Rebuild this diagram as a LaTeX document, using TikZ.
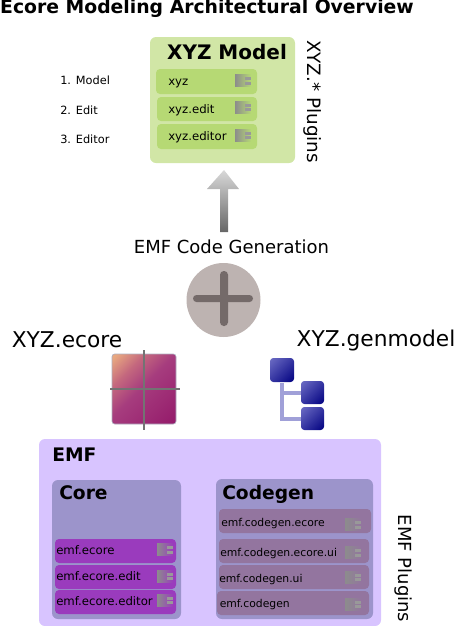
\documentclass[tikz,border=0pt]{standalone}
\usepackage{fontspec}
\setmainfont{DejaVu Sans}
\definecolor{greenouter}{HTML}{D1E6A6}
\definecolor{greeninner}{HTML}{B6D974}
\definecolor{emfbg}{HTML}{D8C4FF}
\definecolor{subbg}{HTML}{9C94CB}
\definecolor{corebox}{HTML}{9A3BBD}
\definecolor{genbox}{HTML}{93759F}
\definecolor{plusbg}{HTML}{BDB3B1}
\definecolor{plusfg}{HTML}{746A69}
\definecolor{treeline}{HTML}{A0A0D8}
\definecolor{deepblue}{HTML}{000080}
\definecolor{paleblue}{HTML}{6C6CC4}
\definecolor{ecoreA}{HTML}{E8A880}
\definecolor{ecoreAB}{HTML}{C4687E}
\definecolor{ecoreB}{HTML}{A63C7E}
\definecolor{ecoreC}{HTML}{941A6A}
\pgfdeclareverticalshading{ecoreshade}{100bp}{color(0bp)=(ecoreC); color(15bp)=(ecoreC); color(52bp)=(ecoreB); color(68bp)=(ecoreAB); color(83bp)=(ecoreA); color(100bp)=(ecoreA)}
\pgfdeclareverticalshading{blueshade}{100bp}{color(0bp)=(deepblue); color(15bp)=(deepblue); color(85bp)=(paleblue); color(100bp)=(paleblue)}
\tikzset{
  px/.style={x=0.75pt,y=-0.75pt},
  rbox/.style={rounded corners=#1,draw=none},
  label/.style={inner sep=0pt,anchor=base west,font=\fontsize{8.8}{11}\selectfont},
  genlabel/.style={inner sep=0pt,anchor=base west,font=\fontsize{8.1}{10}\selectfont},
  sidelabel/.style={inner sep=0pt,anchor=base west,font=\fontsize{8.5}{10}\selectfont},
  big/.style={inner sep=0pt,font=\fontsize{16.3}{19}\selectfont},
  head/.style={inner sep=0pt,anchor=west,font=\fontsize{14}{16}\selectfont\bfseries},
  plugicon/.pic={
    \shade[left color=black!45,right color=#1] (-8,-6) rectangle (8,6);
    \fill[black!40] (2,-3.5) rectangle (8,-0.5);
    \fill[black!40] (2,1) rectangle (8,4);
  },
  bluebox/.style={rounded corners=2.5pt,draw=none,shading=blueshade,shading angle=45},
}
\begin{document}
\begin{tikzpicture}[px]
\useasboundingbox (0,0) rectangle (454,626);
\node[inner sep=0pt,font=\fontsize{14.1}{16}\selectfont\bfseries] (title) at (207,8.6) {Ecore Modeling Architectural Overview};
% XYZ model
\fill[greenouter,rbox=4.5pt] (150,37) rectangle (295,163);
\node[inner sep=0pt,font=\fontsize{15}{18}\selectfont\bfseries] (xyzhead) at (227,52) {XYZ Model};
\fill[greeninner,rbox=3pt] (156,69) rectangle (257,94);
\fill[greeninner,rbox=3pt] (157,97) rectangle (257,121);
\fill[greeninner,rbox=3pt] (157,124) rectangle (257,149);
\node[label] (xyz) at (168,85) {xyz};
\node[label] (xyzedit) at (168,113) {xyz.edit};
\node[label] (xyzeditor) at (168,140) {xyz.editor};
\pic at (243,80.5) {plugicon=greeninner};
\pic at (243,107) {plugicon=greeninner};
\pic at (243,135) {plugicon=greeninner};
\node[sidelabel] (l1) at (60,84.5) {1. Model};
\node[sidelabel] (l2) at (60,114.5) {2. Edit};
\node[sidelabel] (l3) at (60,143) {3. Editor};
\node[inner sep=0pt,font=\fontsize{13.75}{16}\selectfont,rotate=-90] (xyzplug) at (313,101.5) {XYZ.* Plugins};
% arrow
\shade[top color=black!15,bottom color=black!60]
  (224,170) -- (239,189) -- (228,189) -- (228,232) -- (220,232) -- (220,189) -- (207,189) -- cycle;
\node[inner sep=0pt,font=\fontsize{13.5}{16}\selectfont] (gen) at (231.5,247) {EMF Code Generation};
% plus
\fill[plusbg] (223.5,300) circle [radius=37];
\fill[plusfg,rounded corners=2.6pt] (193,295) rectangle (253,302);
\fill[plusfg,rounded corners=2.8pt] (220,271) rectangle (228,326);
% labels
\node[big] (ecore) at (67,340) {XYZ.ecore};
\node[big] (genmodel) at (376,340) {XYZ.genmodel};
% ecore icon
\shade[rounded corners=2pt,shading=ecoreshade,shading angle=45] (112,354) rectangle (176,424);
\draw[treeline!60!black!50,line width=0.5pt,rounded corners=2pt] (112,354) rectangle (176,424);
\draw[black!55,line width=1.6pt] (144,350) -- (144,430);
\draw[black!55,line width=1.6pt] (110,389) -- (180,389);
% genmodel icon
\draw[treeline,line width=3pt] (282,383) -- (282,419) -- (301,419);
\draw[treeline,line width=3pt] (282,393) -- (301,393);
\shade[bluebox] (270,358) rectangle (294,382);
\shade[bluebox] (301,381) rectangle (324,404);
\shade[bluebox] (301,407) rectangle (324,430);
% EMF
\fill[emfbg,rbox=4.5pt] (39,439) rectangle (381,626);
\node[head] (emf) at (52,455) {EMF};
\fill[subbg,rbox=4.5pt] (52,480) rectangle (181,619);
\node[head] (core) at (59,493) {Core};
\fill[corebox,rbox=3pt] (55,539) rectangle (176,563);
\fill[corebox,rbox=3pt] (55,565) rectangle (176,589);
\fill[corebox,rbox=3pt] (55,590) rectangle (176,614);
\node[label] (c1) at (56,554) {emf.ecore};
\node[label] (c2) at (56,580.5) {emf.ecore.edit};
\node[label] (c3) at (56,605) {emf.ecore.editor};
\pic at (165,549.5) {plugicon=corebox};
\pic at (165,576) {plugicon=corebox};
\pic at (165,600) {plugicon=corebox};
\fill[subbg,rbox=4.5pt] (216,479) rectangle (373,619);
\node[head] (codegen) at (222,494) {Codegen};
\fill[genbox,rbox=3pt] (219,509) rectangle (371,533);
\fill[genbox,rbox=3pt] (219,539) rectangle (369,563);
\fill[genbox,rbox=3pt] (219,565) rectangle (369,589);
\fill[genbox,rbox=3pt] (217,591) rectangle (369,615);
\node[genlabel] (g1) at (221,526.7) {emf.codegen.ecore};
\node[genlabel] (g2) at (220,556) {emf.codegen.ecore.ui};
\node[genlabel] (g3) at (219,582) {emf.codegen.ui};
\node[genlabel] (g4) at (219.5,607.7) {emf.codegen};
\pic at (353,524.5) {plugicon=genbox};
\pic at (353,552.5) {plugicon=genbox};
\pic at (353,577) {plugicon=genbox};
\pic at (353,604) {plugicon=genbox};
\node[inner sep=0pt,font=\fontsize{13.5}{16}\selectfont,rotate=-90] (emfplug) at (403,568.5) {EMF Plugins};
\end{tikzpicture}
\end{document}
